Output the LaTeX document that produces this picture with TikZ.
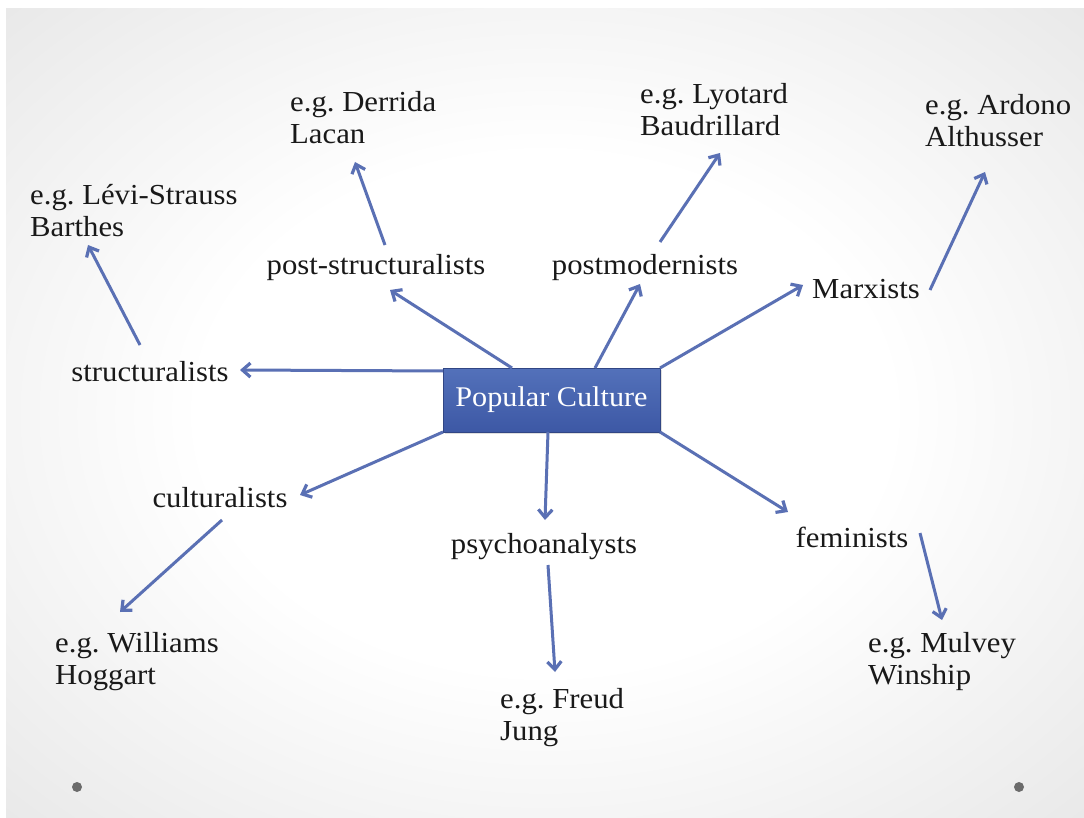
\documentclass[tikz,border=0pt]{standalone}
\usepackage{fontspec}
\setmainfont[FakeStretch=1.06]{Liberation Serif}
\usetikzlibrary{arrows.meta,shadows}
\frenchspacing
\pgfdeclareradialshading{bgshade}{\pgfpoint{0bp}{0bp}}{color(0bp)=(white); color(16bp)=(white); color(72bp)=(black!25)}
\definecolor{arrowblue}{HTML}{5A70B4}
\definecolor{boxtop}{HTML}{5371BA}
\definecolor{boxbot}{HTML}{3D58A5}
\tikzset{
  lbl/.style={font=\fontsize{29}{32}\selectfont, inner sep=0pt, text=black!90},
  eg/.style={lbl, align=left, anchor=base west},
  conn/.style={draw=arrowblue, line width=3pt, -{Straight Barb[length=8pt,width=14pt,line width=3.2pt]}},
}
\begin{document}
\begin{tikzpicture}[x=1pt,y=-1pt]
\useasboundingbox (0,0) rectangle (1084,818);
\fill[white] (0,0) rectangle (1084,818);
\shade[shading=bgshade] (6,9) rectangle (1084,818);
% corner dots
\fill[black!58] (77,787) circle (5);
\fill[black!58] (1019,787) circle (5);
% central box
\node[draw=boxbot!80!black, line width=0.6pt, top color=boxtop, bottom color=boxbot, minimum width=217pt, minimum height=64pt, inner sep=0pt, drop shadow={opacity=0.25, shadow xshift=2pt, shadow yshift=-2pt}, font=\fontsize{28.5}{34}\selectfont, text=white] (pc) at (551.5,400) {Popular Culture};
% first level
\node[lbl] (str) at (150,372) {structuralists};
\node[lbl] (pst) at (376,268) {post-structuralists};
\node[lbl] (pmod) at (645,268) {postmodernists};
\node[lbl] (marx) at (866,289) {Marxists};
\node[lbl] (cult) at (220,498) {culturalists};
\node[lbl] (psy) at (544,547) {psychoanalysts};
\node[lbl] (fem) at (852,537) {feminists};
% second level (anchor = baseline of last line)
\node[eg] (levi) at (30,237) {e.g. L\'evi-Strauss\\Barthes};
\node[eg] (derr) at (290,144) {e.g. Derrida\\Lacan};
\node[eg] (lyo) at (640,136) {e.g. Lyotard\\Baudrillard};
\node[eg] (ard) at (925,147) {e.g. Ardono\\Althusser};
\node[eg] (will) at (55,684) {e.g. Williams\\Hoggart};
\node[eg] (freud) at (500,740) {e.g. Freud\\Jung};
\node[eg] (mul) at (868,684) {e.g. Mulvey\\Winship};
% anchor coordinates
\coordinate (a1) at (443,371); \coordinate (e1) at (240,370);
\coordinate (a2) at (512,368); \coordinate (e2) at (390,290);
\coordinate (a3) at (595,368); \coordinate (e3) at (640,284);
\coordinate (a4) at (660,368); \coordinate (e4) at (803,285);
\coordinate (a5) at (443,432); \coordinate (e5) at (300,495);
\coordinate (a6) at (548,432); \coordinate (e6) at (545,520);
\coordinate (a7) at (660,432); \coordinate (e7) at (788,512);
\coordinate (b1) at (140,345); \coordinate (f1) at (88,245);
\coordinate (b2) at (385,245); \coordinate (f2) at (355,162);
\coordinate (b3) at (660,242); \coordinate (f3) at (720,153);
\coordinate (b4) at (930,290); \coordinate (f4) at (985,172);
\coordinate (b5) at (222,520); \coordinate (f5) at (120,612);
\coordinate (b6) at (548,565); \coordinate (f6) at (555,672);
\coordinate (b7) at (920,533); \coordinate (f7) at (942,620);
\draw[conn] (a1) -- (e1);
\draw[conn] (a2) -- (e2);
\draw[conn] (a3) -- (e3);
\draw[conn] (a4) -- (e4);
\draw[conn] (a5) -- (e5);
\draw[conn] (a6) -- (e6);
\draw[conn] (a7) -- (e7);
\draw[conn] (b1) -- (f1);
\draw[conn] (b2) -- (f2);
\draw[conn] (b3) -- (f3);
\draw[conn] (b4) -- (f4);
\draw[conn] (b5) -- (f5);
\draw[conn] (b6) -- (f6);
\draw[conn] (b7) -- (f7);
\end{tikzpicture}
\end{document}
